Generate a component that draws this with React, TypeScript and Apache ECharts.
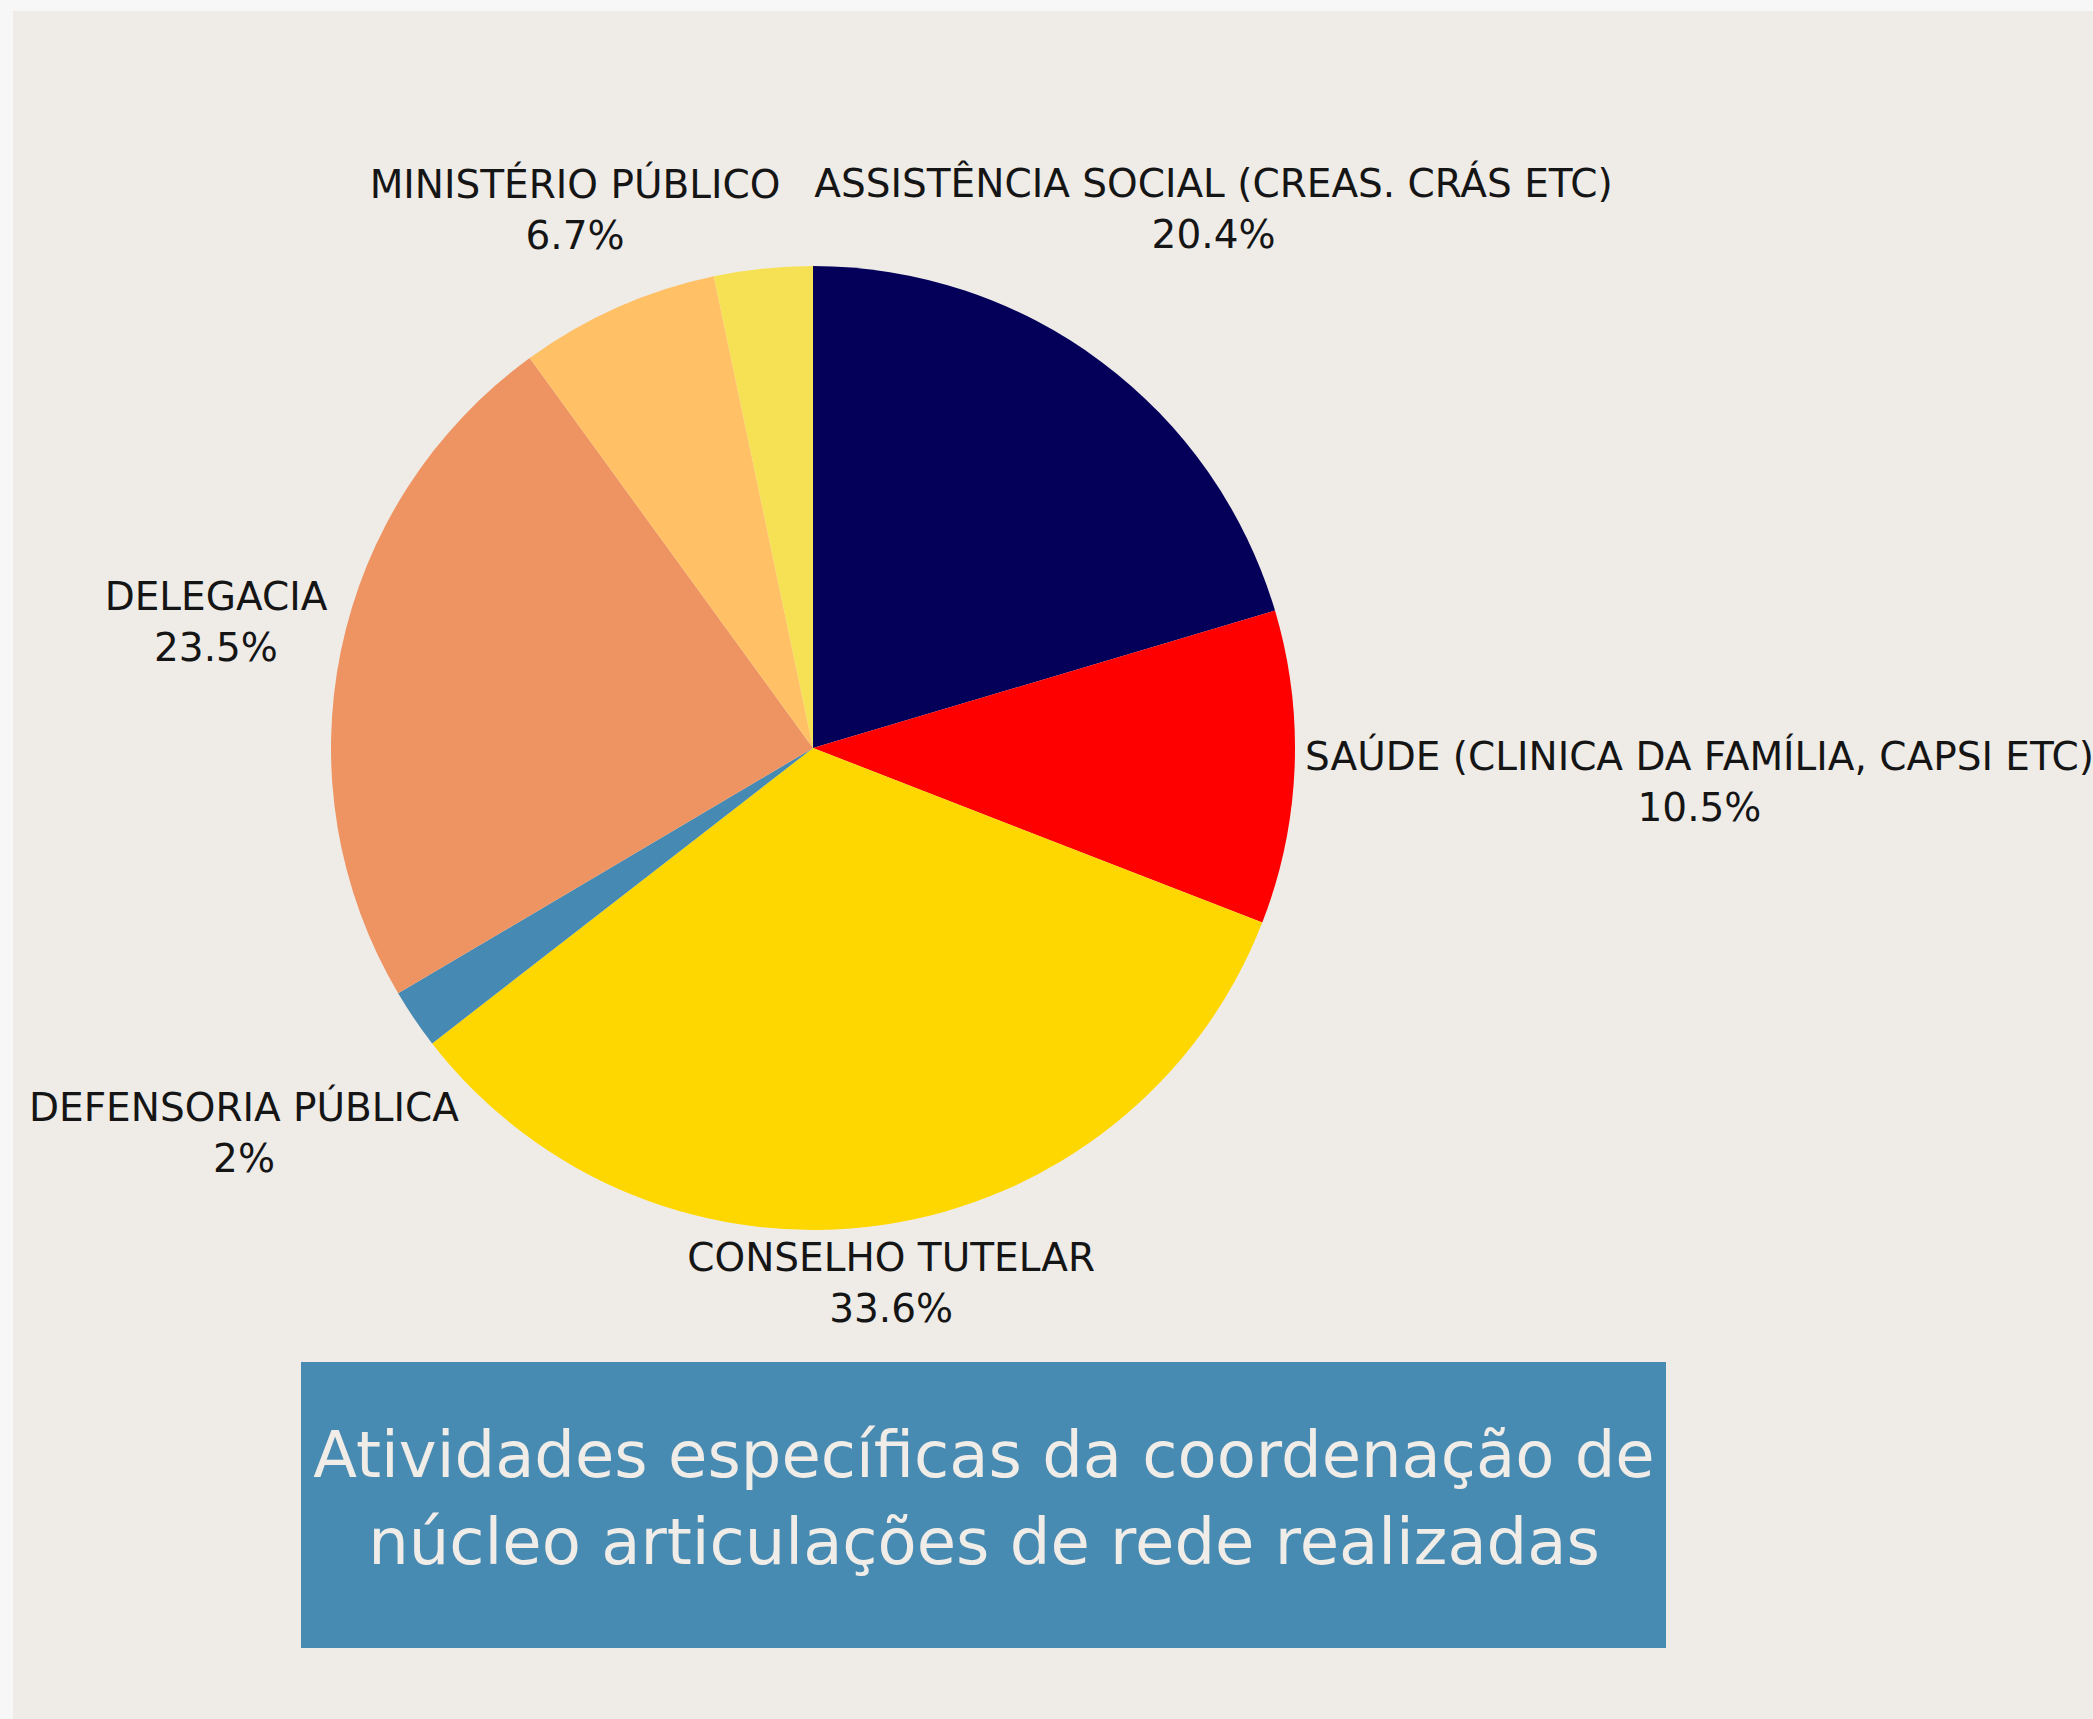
import React, { useEffect, useRef } from "react";
import * as echarts from "echarts";

const categories = [
  "ASSISTÊNCIA SOCIAL (CREAS. CRÁS ETC)",
  "SAÚDE (CLINICA DA FAMÍLIA, CAPSI ETC)",
  "CONSELHO TUTELAR",
  "DEFENSORIA PÚBLICA",
  "DELEGACIA",
  "MINISTÉRIO PÚBLICO",
  "",
];
const values = [20.4, 10.5, 33.6, 2, 23.5, 6.7, 3.3];
const sliceColors = ["#04005a", "#ff0000", "#ffd700", "#4689b2", "#ee9462", "#ffc066", "#f6e054"];
const showLabel = [true, true, true, true, true, true, false];
const titleLines = ["Atividades específicas da coordenação de", "núcleo articulações de rede realizadas"];

const W = 2093;
const H = 1719;
const CX = 813;
const CY = 748;
const R = 482;
const FONT = "'DejaVu Sans', 'Noto Sans', sans-serif";

export default function App() {
  const ref = useRef<HTMLDivElement>(null);
  useEffect(() => {
    document.body.style.margin = "0";
    document.body.style.background = "#f7f7f7";
    if (!ref.current) return;
    const chart = echarts.init(ref.current, undefined, { renderer: "svg", width: W, height: H });
    const total = values.reduce((a, b) => a + b, 0);
    const mids: number[] = [];
    let cum = 0;
    values.forEach((v) => {
      mids.push(((cum + v / 2) / total) * Math.PI * 2);
      cum += v;
    });
    const clamp = (v: number, lo: number, hi: number) => Math.max(lo, Math.min(hi, v));
    const labelLayout = (p: any) => {
      const a = mids[p.dataIndex];
      const ux = Math.sin(a);
      const uy = -Math.cos(a);
      const w = p.labelRect.width / 2;
      const h = Math.max(1, p.labelRect.height / 2 - 6);
      const target = R + 10;
      let lo = 0;
      let hi = 3000;
      for (let k = 0; k < 60; k++) {
        const t = (lo + hi) / 2;
        const bx = t * ux;
        const by = t * uy;
        const nx = clamp(0, bx - w, bx + w);
        const ny = clamp(0, by - h, by + h);
        if (Math.hypot(nx, ny) >= target) hi = t;
        else lo = t;
      }
      return { x: CX + hi * ux, y: CY + hi * uy - 2, align: "center", verticalAlign: "middle" };
    };
    chart.setOption({
      animation: false,
      backgroundColor: "#f7f7f7",
      graphic: [
        { type: "rect", z: 0, shape: { x: 13, y: 11, width: W - 13, height: H - 11 }, style: { fill: "#efece8" } },
        { type: "rect", z: 0, shape: { x: 301, y: 1362, width: 1365, height: 286 }, style: { fill: "#478ab2" } },
        {
          type: "text",
          z: 1,
          x: 984,
          y: 1498,
          style: {
            text: titleLines.join("\n"),
            fill: "#f0ece7",
            fontSize: 64,
            fontFamily: FONT,
            lineHeight: 87,
            align: "center",
            verticalAlign: "middle",
          },
        },
      ],
      series: [
        {
          type: "pie",
          center: [CX, CY],
          radius: R,
          startAngle: 90,
          clockwise: true,
          avoidLabelOverlap: false,
          labelLine: { show: false },
          label: {
            show: true,
            position: "outside",
            color: "#151515",
            fontFamily: FONT,
            fontSize: 39,
            lineHeight: 51,
            align: "center",
            formatter: (p: any) => `${p.name}\n${p.value}%`,
          },
          labelLayout,
          emphasis: { disabled: true },
          data: categories.map((name, i) => ({
            name,
            value: values[i],
            itemStyle: { color: sliceColors[i] },
            label: { show: showLabel[i] },
          })),
        },
      ],
    });
    return () => chart.dispose();
  }, []);
  return <div ref={ref} style={{ width: W, height: H }} />;
}
